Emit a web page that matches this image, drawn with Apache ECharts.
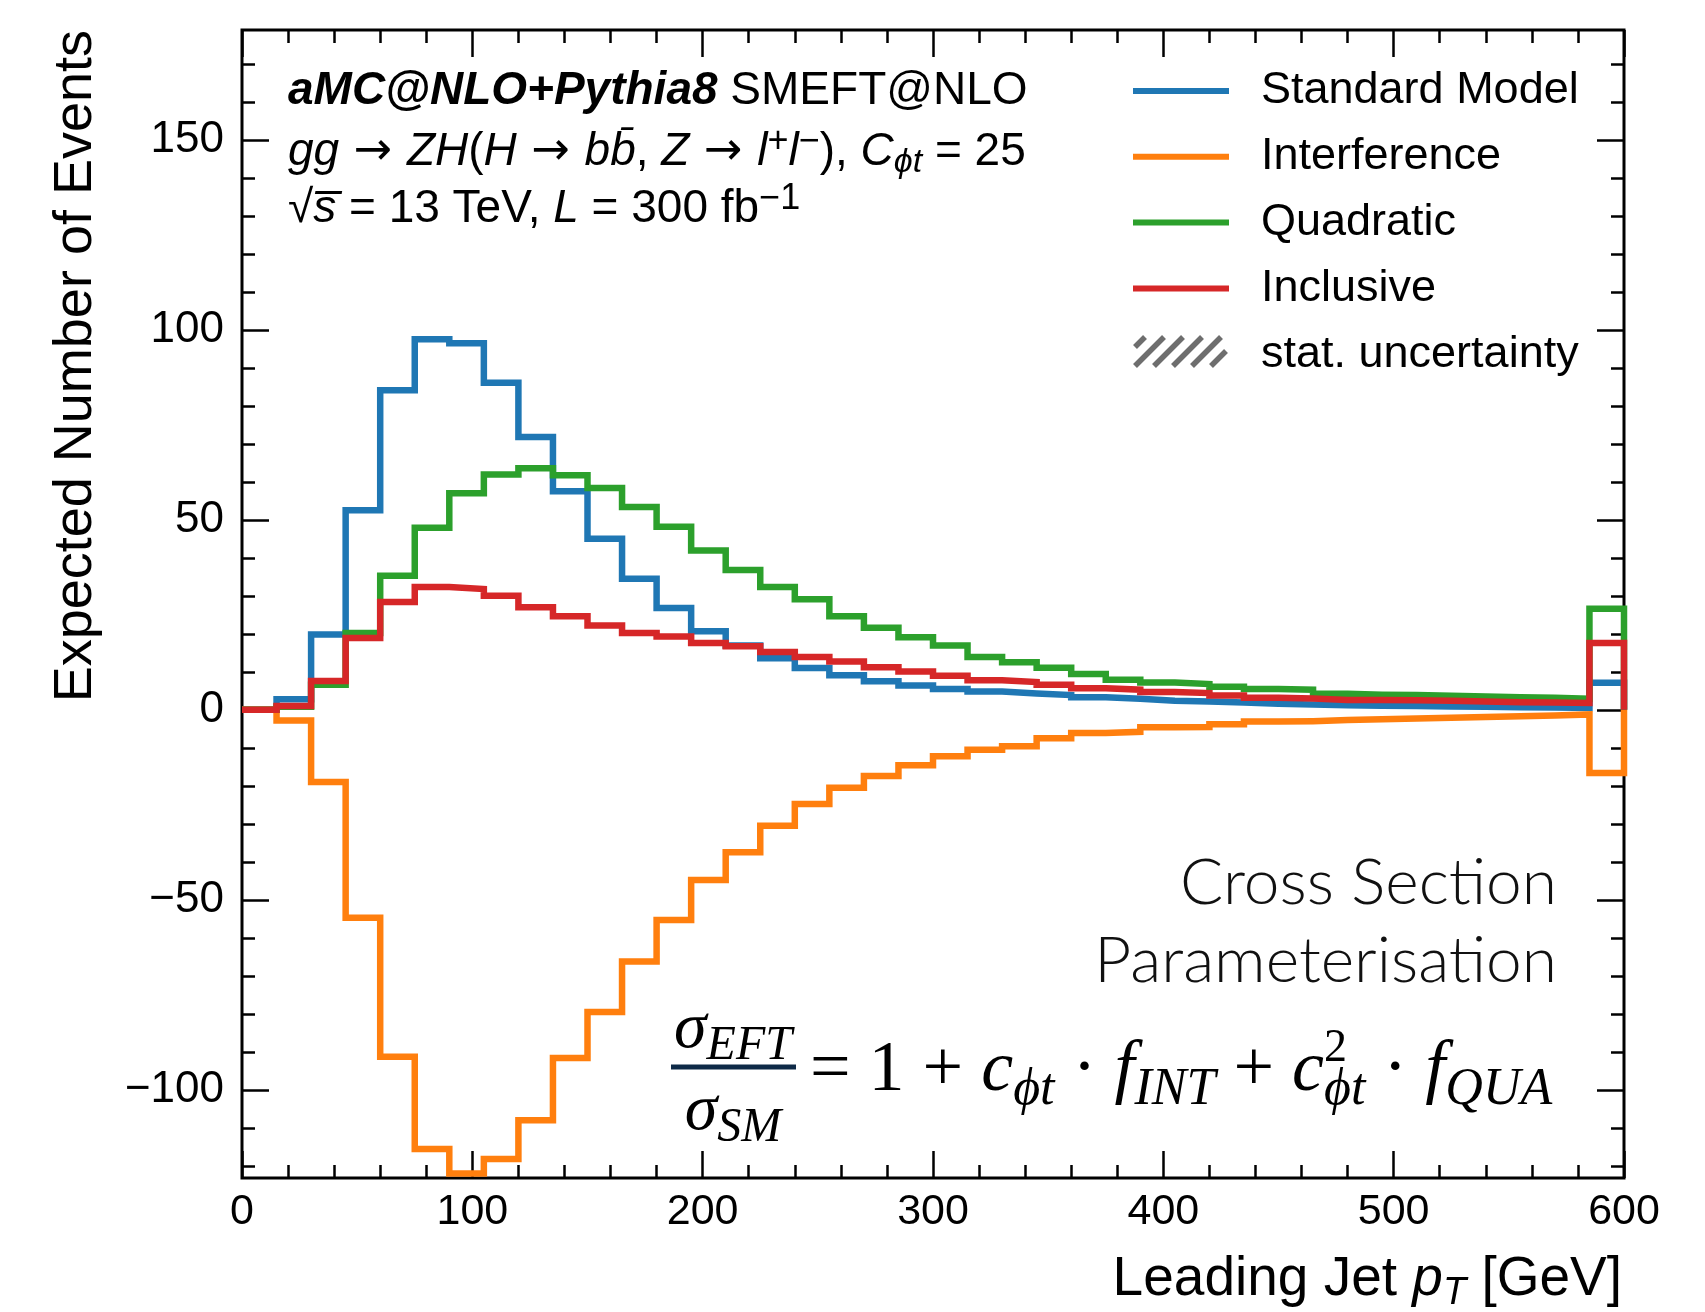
<!DOCTYPE html>
<html style="height: 100%">
  <head>
    <meta charset="utf-8" />
  </head>
  <body style="height: 100%; margin: 0; background: #fff">
    <div id="container" style="width: 1705px; height: 1312px"></div>

    <script
      type="text/javascript"
      src="https://fastly.jsdelivr.net/npm/echarts@6.0.0/dist/echarts.min.js"
    ></script>

    <script type="text/javascript">
      // bin edges of the leading jet pT histogram (GeV)
      var binEdges = [
        0, 15, 30, 45, 60, 75, 90, 105, 120, 135, 150, 165, 180, 195, 210, 225,
        240, 255, 270, 285, 300, 315, 330, 345, 360, 375, 390, 405, 420, 435,
        450, 465, 480, 495, 510, 525, 540, 555, 570, 585, 600
      ];

      // expected events per bin
      var standardModel = [
        0, 2.8, 19.8, 52.5, 84.1, 97.5, 96.5, 86.1, 71.8, 57.5, 45.0, 34.5, 26.8,
        20.7, 16.9, 13.6, 11.0, 9.1, 7.5, 6.4, 5.5, 4.8, 4.3, 3.9, 3.3, 2.9, 2.4,
        2.2, 1.9, 1.6, 1.4, 1.2, 1.1, 1.0, 0.9, 0.8, 0.7, 0.6, 0.5, 7.1
      ];
      var interference = [
        0, -2.8, -19.0, -54.7, -91.3, -115.6, -122.0, -118.2, -108.0, -91.6,
        -79.5, -66.2, -55.3, -44.8, -37.5, -30.5, -24.8, -20.5, -17.4, -14.6,
        -12.2, -10.5, -9.6, -7.5, -6.1, -5.8, -4.6, -4.5, -3.8, -3.1, -3.0, -2.7,
        -2.5, -2.3, -2.1, -1.9, -1.7, -1.5, -1.2, -16.6
      ];
      var quadratic = [
        0, 0.8, 6.6, 20.2, 35.3, 47.9, 57.0, 61.9, 63.6, 61.7, 58.4, 53.4, 48.2,
        41.9, 36.8, 32.3, 29.1, 24.6, 21.6, 19.1, 16.9, 13.9, 12.5, 11.1, 9.4,
        7.9, 7.2, 6.8, 6.1, 5.5, 5.3, 4.2, 4.0, 3.9, 3.7, 3.5, 3.3, 3.2, 2.9, 26.6
      ];
      var inclusive = [
        0, 1.0, 7.6, 18.9, 28.4, 32.3, 31.8, 30.0, 27.0, 24.6, 22.2, 20.2, 19.3,
        17.6, 16.7, 15.2, 13.9, 12.7, 11.2, 10.1, 9.0, 7.8, 7.3, 6.6, 5.7, 5.3,
        4.7, 4.4, 3.8, 3.2, 3.0, 2.6, 2.6, 2.5, 2.4, 2.2, 2.0, 1.9, 1.8, 17.6
      ];

      var seriesNames = ["Standard Model", "Interference", "Quadratic", "Inclusive"];
      var seriesColors = ["#1f77b4", "#ff7f0e", "#2ca02c", "#d62728"];

      var yTicksMajor = [-100, -50, 0, 50, 100, 150];
      var yTicksMinor = [
        -120, -110, -90, -80, -70, -60, -40, -30, -20, -10, 10, 20, 30, 40, 60,
        70, 80, 90, 110, 120, 130, 140, 160, 170
      ];
      var yMin = -123.2;
      var yMax = 178.9;

      var navy = "#0e2a47";

      // turn bin contents into the outline of a step histogram
      function stepOutline(values) {
        var pts = [[binEdges[0], 0]];
        for (var i = 0; i < values.length; i++) {
          pts.push([binEdges[i], values[i]]);
          pts.push([binEdges[i + 1], values[i]]);
        }
        pts.push([binEdges[binEdges.length - 1], 0]);
        return pts;
      }

      function yAxisCfg(pos, ticks, len, labels) {
        return {
          type: "value",
          position: pos,
          min: yMin,
          max: yMax,
          axisLine: { show: false, onZero: false },
          splitLine: { show: false },
          axisTick: {
            inside: true,
            length: len,
            customValues: ticks,
            lineStyle: { color: "#000", width: 2.5 },
          },
          axisLabel: {
            show: labels,
            customValues: ticks,
            margin: 18,
            fontSize: 44,
            fontFamily: "Liberation Sans",
            color: "#000",
            formatter: function (v) {
              return String(v).replace("-", "\u2212");
            },
          },
        };
      }

      function xAxisCfg(pos, labels) {
        return {
          type: "value",
          position: pos,
          min: 0,
          max: 600,
          interval: 100,
          axisLine: { show: false, onZero: false },
          splitLine: { show: false },
          axisTick: {
            inside: true,
            length: 27,
            lineStyle: { color: "#000", width: 2.5 },
          },
          minorTick: {
            show: true,
            splitNumber: 5,
            length: 13,
            lineStyle: { color: "#000", width: 2.5 },
          },
          minorSplitLine: { show: false },
          axisLabel: {
            show: labels,
            margin: 13,
            fontSize: 43,
            fontFamily: "Liberation Sans",
            color: "#000",
          },
        };
      }

      var dom = document.getElementById("container");
      var myChart = echarts.init(dom, null, { renderer: "canvas" });

      var seriesData = [standardModel, interference, quadratic, inclusive];
      var series = seriesData.map(function (vals, i) {
        return {
          name: seriesNames[i],
          type: "line",
          data: stepOutline(vals),
          showSymbol: false,
          clip: true,
          silent: true,
          color: seriesColors[i],
          lineStyle: { color: seriesColors[i], width: 6.5, join: "miter" },
        };
      });
      series.push({ name: "stat. uncertainty", type: "line", data: [] });

      var txt = { fontFamily: "Liberation Sans", fontSize: 46, color: "#000", lineHeight: 56 };
      var richText = {
        r: txt,
        bi: Object.assign({}, txt, { fontWeight: "bold", fontStyle: "italic" }),
        i: Object.assign({}, txt, { fontStyle: "italic" }),
        ar: Object.assign({}, txt, { fontFamily: "DejaVu Sans", fontSize: 46 }),
        sub: { fontFamily: "Liberation Sans", fontSize: 34, fontStyle: "italic", color: "#000", lineHeight: 34, verticalAlign: "bottom" },
        sup: { fontFamily: "Liberation Sans", fontSize: 36, color: "#000", lineHeight: 34, verticalAlign: "top" },
      };

      var mathRich = {
        m: { fontFamily: "Liberation Serif", fontSize: 72, color: navy, lineHeight: 90 },
        mi: { fontFamily: "Liberation Serif", fontSize: 72, fontStyle: "italic", color: navy, lineHeight: 90 },
        sb: { fontFamily: "Liberation Serif", fontSize: 52, fontStyle: "italic", color: navy, lineHeight: 50, verticalAlign: "bottom" },
        sp: { fontFamily: "Liberation Serif", fontSize: 46, color: navy, lineHeight: 44, verticalAlign: "top", width: 0 },
      };
      var fracRich = {
        mi: { fontFamily: "Liberation Serif", fontSize: 66, fontStyle: "italic", color: navy, lineHeight: 80 },
        sb: { fontFamily: "Liberation Serif", fontSize: 48, fontStyle: "italic", color: navy, lineHeight: 46, verticalAlign: "bottom" },
      };

      // hatched legend swatch for the statistical uncertainty
      var hatch = [];
      var hx0 = 1135, hx1 = 1226, hy0 = 337, hy1 = 366;
      for (var k = -1; k < 6; k++) {
        var bx = hx0 + k * 19;
        var x1 = bx, y1 = hy1, x2 = bx + (hy1 - hy0), y2 = hy0;
        if (x1 < hx0) { y1 = hy1 - (hx0 - x1); x1 = hx0; }
        if (x2 > hx1) { y2 = hy0 + (x2 - hx1); x2 = hx1; }
        if (x2 <= x1) continue;
        hatch.push({
          type: "line",
          shape: { x1: x1, y1: y1, x2: x2, y2: y2 },
          style: { stroke: "#6e6e6e", lineWidth: 5.5 },
        });
      }

      var option = {
        animation: false,
        backgroundColor: "#fff",
        grid: {
          left: 242,
          right: 81,
          top: 30,
          bottom: 134,
          show: true,
          borderColor: "#000",
          borderWidth: 3,
          backgroundColor: "transparent",
        },
        xAxis: [xAxisCfg("bottom", true), xAxisCfg("top", false)],
        yAxis: [
          yAxisCfg("left", yTicksMajor, 27, true),
          yAxisCfg("left", yTicksMinor, 13, false),
          yAxisCfg("right", yTicksMajor, 27, false),
          yAxisCfg("right", yTicksMinor, 13, false),
        ],
        legend: {
          orient: "vertical",
          left: 1133,
          top: 66,
          padding: 0,
          itemWidth: 96,
          itemHeight: 6,
          itemGap: 15.8,
          icon: "rect",
          selectedMode: false,
          textStyle: {
            fontSize: 45,
            fontFamily: "Liberation Sans",
            color: "#000",
            lineHeight: 50,
            padding: [0, 0, 0, 27],
          },
          data: seriesNames.concat([
            { name: "stat. uncertainty", itemStyle: { color: "rgba(0,0,0,0)" } },
          ]),
        },
        graphic: [
          {
            type: "text",
            x: 76,
            y: 30,
            rotation: Math.PI / 2,
            style: {
              text: "Expected Number of Events",
              fontFamily: "Liberation Sans",
              fontSize: 54,
              fill: "#000",
              align: "right",
              verticalAlign: "middle",
            },
          },
          {
            type: "text",
            x: 1622,
            y: 1280,
            style: {
              text: "Leading Jet {i|p}{sub|T} [GeV]",
              rich: {
                i: { fontFamily: "Liberation Sans", fontSize: 55, fontStyle: "italic", color: "#000", lineHeight: 64 },
                sub: { fontFamily: "Liberation Sans", fontSize: 38, fontStyle: "italic", color: "#000", lineHeight: 40, verticalAlign: "bottom" },
              },
              fontFamily: "Liberation Sans",
              fontSize: 55,
              lineHeight: 64,
              fill: "#000",
              align: "right",
              verticalAlign: "middle",
            },
          },
          {
            type: "text",
            x: 288,
            y: 91,
            style: {
              text: "{bi|aMC@NLO+Pythia8}{r| SMEFT@NLO}",
              rich: richText,
              verticalAlign: "middle",
            },
          },
          {
            type: "text",
            x: 288,
            y: 152,
            style: {
              text:
                "{i|gg}{ar| \u2192 }{i|ZH}{r|(}{i|H}{ar| \u2192 }{i|bb\u0304}{r|, }{i|Z}{ar| \u2192 }{i|l}{sup|+}{i|l}{sup|\u2212}{r|), }{i|C}{sub|\u03d5t}{r| = 25}",
              rich: richText,
              verticalAlign: "middle",
            },
          },
          {
            type: "text",
            x: 288,
            y: 209,
            style: {
              text: "{r|\u221a}{i|s\u0305}{r| = 13 TeV, }{i|L}{r| = 300 fb}{sup|\u22121}",
              rich: richText,
              verticalAlign: "middle",
            },
          },
          {
            type: "text",
            x: 1557,
            y: 883,
            style: {
              text: "Cross Section",
              fontFamily: "Lato",
              fontWeight: 300,
              fontSize: 64,
              fill: "#111",
              align: "right",
              verticalAlign: "middle",
            },
          },
          {
            type: "text",
            x: 1557,
            y: 961,
            style: {
              text: "Parameterisation",
              fontFamily: "Lato",
              fontWeight: 300,
              fontSize: 64,
              fill: "#111",
              align: "right",
              verticalAlign: "middle",
            },
          },
          {
            type: "text",
            x: 733,
            y: 1030,
            style: {
              text: "{mi|\u03c3}{sb|EFT}",
              rich: fracRich,
              align: "center",
              verticalAlign: "middle",
            },
          },
          {
            type: "line",
            shape: { x1: 671, y1: 1067, x2: 796, y2: 1067 },
            style: { stroke: navy, lineWidth: 5 },
          },
          {
            type: "text",
            x: 733,
            y: 1112,
            style: {
              text: "{mi|\u03c3}{sb|SM}",
              rich: fracRich,
              align: "center",
              verticalAlign: "middle",
            },
          },
          {
            type: "text",
            x: 810,
            y: 1071,
            style: {
              text:
                "{m|= 1 + }{mi|c}{sb|\u03d5t}{m| \u00b7 }{mi|f}{sb|INT}{m| + }{mi|c}{sp|2}{sb|\u03d5t}{m| \u00b7 }{mi|f}{sb|QUA}",
              rich: mathRich,
              verticalAlign: "middle",
            },
          },
          { type: "group", children: hatch },
        ],
        series: series,
      };

      myChart.setOption(option);
      window.addEventListener("resize", myChart.resize);
    </script>
  </body>
</html>
